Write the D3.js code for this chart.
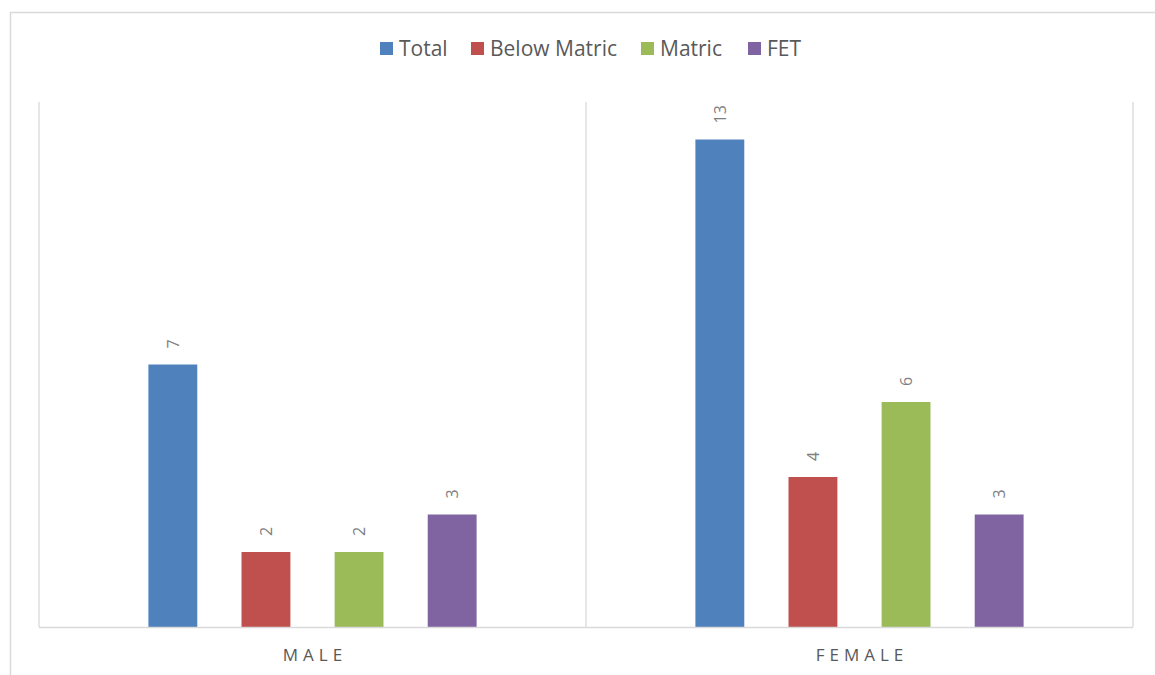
<!DOCTYPE html>
<html><head><meta charset="utf-8">
<script src="https://cdn.jsdelivr.net/npm/d3@7"></script>
<style>body{margin:0;background:#fff;} svg{display:block;}</style>
</head><body>
<svg id="c" width="1155" height="675"></svg>
<script>
const categories = ["MALE", "FEMALE"];
const seriesNames = ["Total", "Below Matric", "Matric", "FET"];
const total = [7, 13];
const belowMatric = [2, 4];
const matric = [2, 6];
const fet = [3, 3];
const colors = ["#4f81bd", "#c0504d", "#9bbb59", "#8064a2"];

const values = [total, belowMatric, matric, fet];
const svg = d3.select("#c");
const font = "'Open Sans', 'Liberation Sans', sans-serif";

// outer border
svg.append("rect").attr("x", 10.5).attr("y", 12.5).attr("width", 1160).attr("height", 700)
  .attr("fill", "none").attr("stroke", "#d9d9d9").attr("stroke-width", 1.5);

const plot = {left: 39, right: 1133, top: 102, bottom: 627};
const x0 = d3.scaleBand().domain(categories).range([plot.left, plot.right]);
const groupW = x0.bandwidth();
const x1 = d3.scaleBand().domain(seriesNames).range([groupW * 0.2, groupW * 0.8]).paddingInner(0.475);
const y = d3.scaleLinear().domain([0, 14]).range([plot.bottom, plot.top]);

// vertical category separators
const seps = [plot.left].concat(categories.map(c => x0(c) + groupW));
svg.selectAll("line.sep").data(seps).enter().append("line")
  .attr("x1", d => d).attr("x2", d => d).attr("y1", plot.top).attr("y2", plot.bottom)
  .attr("stroke", "#d9d9d9").attr("stroke-width", 1.3);

// bars
const g = svg.selectAll("g.grp").data(categories).enter().append("g")
  .attr("transform", c => `translate(${x0(c)},0)`);
seriesNames.forEach((s, si) => {
  g.append("rect")
    .attr("x", x1(s)).attr("width", x1.bandwidth())
    .attr("y", (c, ci) => y(values[si][ci]))
    .attr("height", (c, ci) => plot.bottom - y(values[si][ci]))
    .attr("fill", colors[si]);
  g.append("text")
    .attr("transform", (c, ci) => `translate(${x1(s) + x1.bandwidth() / 2 + 6},${y(values[si][ci]) - 16}) rotate(-90)`)
    .attr("text-anchor", "start")
    .attr("font-family", font).attr("font-size", 16).attr("fill", "#7f7f7f")
    .text((c, ci) => values[si][ci]);
});

// x axis line
svg.append("line").attr("x1", plot.left).attr("x2", plot.right).attr("y1", plot.bottom + 0.5).attr("y2", plot.bottom + 0.5)
  .attr("stroke", "#d9d9d9").attr("stroke-width", 1.5);

// category labels
svg.selectAll("text.cat").data(categories).enter().append("text")
  .attr("x", c => x0(c) + groupW / 2 + 2.5).attr("y", 661)
  .attr("text-anchor", "middle").attr("font-family", font).attr("font-size", 17)
  .attr("letter-spacing", "5px").attr("fill", "#595959").text(c => c);

// legend
const legendX = [380, 471, 641, 748];
const lg = svg.selectAll("g.leg").data(seriesNames).enter().append("g")
  .attr("transform", (d, i) => `translate(${legendX[i]},42)`);
lg.append("rect").attr("width", 13).attr("height", 13).attr("fill", (d, i) => colors[i]);
lg.append("text").attr("x", 19).attr("y", 14).attr("font-family", font).attr("font-size", 21)
  .attr("fill", "#595959").text(d => d);
</script>
</body></html>
